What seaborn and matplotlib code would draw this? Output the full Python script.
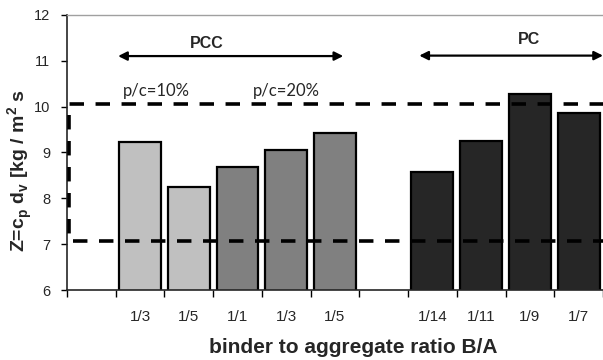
import matplotlib
matplotlib.use("Agg")
import matplotlib.pyplot as plt
import seaborn as sns
import pandas as pd
import numpy as np

# bar data
ratios = ["1/3", "1/5", "1/1", "1/3", "1/5", "1/14", "1/11", "1/9", "1/7"]
z_values = [9.22, 8.25, 8.68, 9.05, 9.43, 8.57, 9.25, 10.27, 9.87]
mixes = ["PCC 10%", "PCC 10%", "PCC 20%", "PCC 20%", "PCC 20%", "PC", "PC", "PC", "PC"]
mix_colors = {"PCC 10%": "#c0c0c0", "PCC 20%": "#808080", "PC": "#262626"}
z_band = [7.07, 10.05]

sns.set_style("ticks")
plt.rcParams["font.family"] = ["Liberation Sans", "DejaVu Sans"]
plt.rcParams["mathtext.fontset"] = "custom"
plt.rcParams["mathtext.bf"] = "Liberation Sans:bold"
plt.rcParams["mathtext.rm"] = "Liberation Sans"

df = pd.DataFrame({"ratio": ratios, "Z": z_values, "mix": mixes})
df["key"] = df["mix"] + " " + df["ratio"]
keys = list(df["key"])
# empty slot before PCC and between PCC and PC
order = ["gap0"] + keys[:5] + ["gap1"] + keys[5:]
tick_labels = [""] + ratios[:5] + [""] + ratios[5:]

fig = plt.figure(figsize=(6.03, 3.6), dpi=100)
ax = fig.add_axes([0.111, 0.194, 0.889, 0.765])

sns.barplot(data=df, x="key", y="Z", hue="mix", order=order, palette=mix_colors,
            width=0.86, edgecolor="black", linewidth=1.6, legend=False, ax=ax)

ax.set_xlim(-0.5, len(order) - 0.5)
ax.set_ylim(6, 12)
ax.set_yticks(np.arange(6, 13, 1))
ax.tick_params(axis="y", labelsize=10.5, length=4, width=1, pad=8, direction="out", color="black")

ax.set_xticks(np.arange(-0.5, len(order), 1), labels=[""] * (len(order) + 1))
ax.tick_params(axis="x", which="major", length=5, width=1, color="black")
ax.set_xticks(range(len(order)), labels=tick_labels, minor=True)
ax.tick_params(axis="x", which="minor", length=0, pad=14, labelsize=11)

ax.set_xlabel("binder to aggregate ratio B/A", fontsize=15, fontweight="bold")
ax.xaxis.set_label_coords(0.535, -0.175)
ax.set_ylabel(r"Z=c$_\mathbf{p}$ d$_\mathbf{v}$ [kg / m$^\mathbf{2}$ s",
              fontsize=14, fontweight="bold")
ax.yaxis.label.set_va("center")
ax.yaxis.set_label_coords(-0.086, 0.436)

ax.spines["right"].set_visible(False)
ax.spines["top"].set_color("#a0a0a0")
ax.spines["top"].set_linewidth(1)
ax.spines["left"].set_linewidth(1.2)
ax.spines["bottom"].set_linewidth(1.2)

# dashed band of target values
ax.plot([10.7, -0.45, -0.45, 10.7], [z_band[1], z_band[1], z_band[0], z_band[0]],
        color="black", lw=2.6, linestyle=(0, (4, 3.2)), zorder=5)

# group arrows
arrow = dict(arrowstyle="<|-|>", color="black", lw=1.6, mutation_scale=13, shrinkA=0, shrinkB=0)
ax.annotate("", xy=(0.55, 11.1), xytext=(5.17, 11.1), arrowprops=arrow, annotation_clip=False)
ax.annotate("", xy=(6.73, 11.11), xytext=(10.5, 11.11), arrowprops=arrow, annotation_clip=False)
ax.text(2.37, 11.38, "PCC", ha="center", va="center", fontsize=11.5, fontweight="bold")
ax.text(8.99, 11.47, "PC", ha="center", va="center", fontsize=11.5, fontweight="bold")

ax.text(1.33, 10.33, "p/c=10%", ha="center", va="center", fontsize=12, family=["Lato", "DejaVu Sans"])
ax.text(4.0, 10.33, "p/c=20%", ha="center", va="center", fontsize=12, family=["Lato", "DejaVu Sans"])

fig.savefig("out.png", dpi=100)
